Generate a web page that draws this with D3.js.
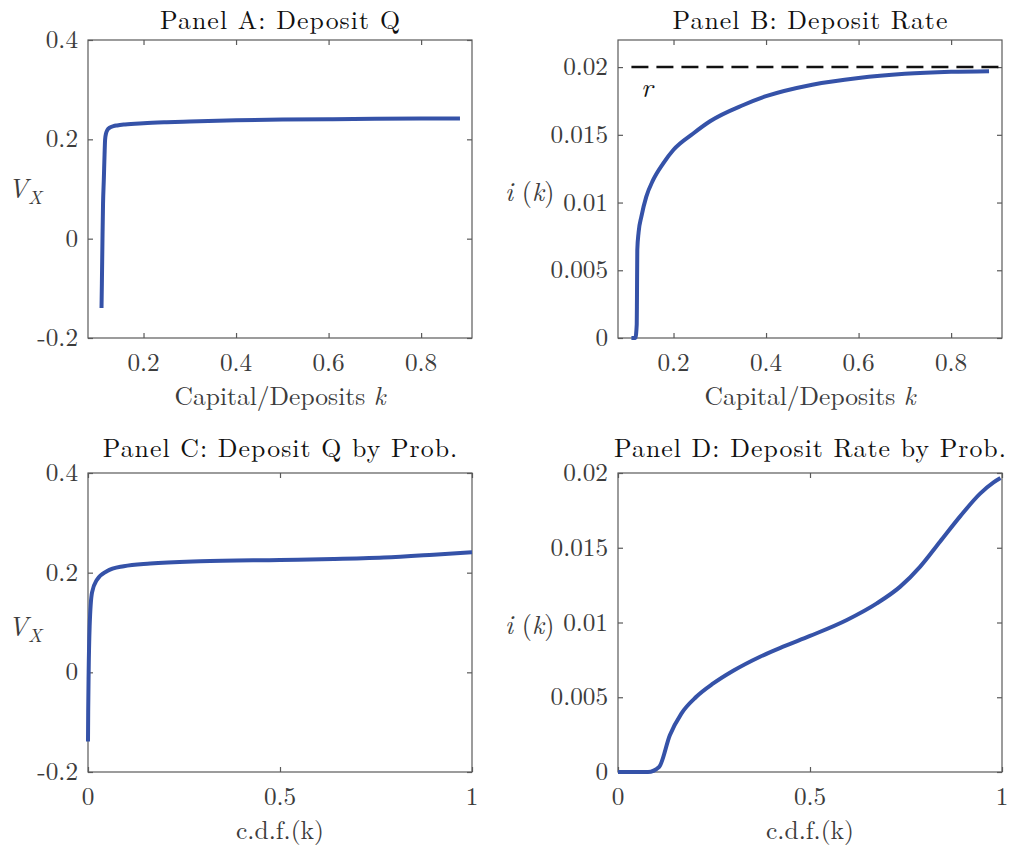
<!DOCTYPE html>
<html><head><meta charset="utf-8">
<script src="https://cdn.jsdelivr.net/npm/d3@7"></script>
<style>
body{margin:0;background:#fff;}
svg{display:block;}
</style></head>
<body>
<svg id="chart" width="1012" height="850"></svg>
<script>
// ---- Data ----
// Panel A: Deposit Q vs capital/deposits
const kA = [0.1092,0.1100,0.1113,0.1125,0.1142,0.1158,0.1170,0.1190,0.1220,0.1270,0.1350,0.1430,0.1600,0.2000,0.2500,0.3000,0.4000,0.5000,0.6000,0.7000,0.8000,0.8840];
const vA = [-0.1395,-0.090,0.000,0.070,0.119,0.170,0.200,0.212,0.219,0.2235,0.2265,0.228,0.230,0.2325,0.2345,0.236,0.2385,0.2398,0.2405,0.2412,0.2417,0.2420];
// Panel B: Deposit rate vs capital/deposits
const kB = [0.1090,0.1175,0.1205,0.1210,0.1217,0.1245,0.1304,0.1410,0.1557,0.1774,0.2000,0.2426,0.2790,0.3510,0.4000,0.5000,0.6000,0.7000,0.8000,0.8820];
const iB = [0,0,0.0010,0.0030,0.0065,0.0078,0.00895,0.01042,0.01165,0.01288,0.0139,0.0151,0.0160,0.0172,0.01785,0.0187,0.0192,0.0195,0.01965,0.0197];
const rRate = 0.02;
const rSpan = [0.109, 0.91];
// Panel C: Deposit Q vs c.d.f.
const cdfC = [0,0.0005,0.0017,0.0043,0.0104,0.0234,0.049,0.093,0.162,0.292,0.5,0.64,0.77,0.9,1.0];
const vC = [-0.1387,-0.08,0.0,0.0925,0.16,0.186,0.203,0.213,0.2185,0.223,0.2255,0.2272,0.2302,0.236,0.241];
// Panel D: Deposit rate vs c.d.f.
const cdfD = [0,0.078,0.107,0.135,0.165,0.204,0.248,0.300,0.370,0.430,0.500,0.596,0.674,0.735,0.787,0.839,0.891,0.943,0.978,0.996];
const iD = [0,0,0.000335,0.00246,0.00391,0.00503,0.00592,0.00677,0.00771,0.00838,0.0091,0.01017,0.01128,0.0124,0.01374,0.01542,0.0171,0.01862,0.01937,0.01966];

// tick labels
const ticksKx = [0.2,0.4,0.6,0.8];
const ticksKxLabels = ["0.2","0.4","0.6","0.8"];
const ticksVy = [-0.2,0,0.2,0.4];
const ticksVyLabels = ["-0.2","0","0.2","0.4"];
const ticksIy = [0,0.005,0.01,0.015,0.02];
const ticksIyLabels = ["0","0.005","0.01","0.015","0.02"];
const ticksCx = [0,0.5,1];
const ticksCxLabels = ["0","0.5","1"];

const titles = ["Panel A: Deposit Q","Panel B: Deposit Rate","Panel C: Deposit Q by Prob.","Panel D: Deposit Rate by Prob."];

// ---- Font selection: first installed serif face ----
function pickSerif(){
  const cands = ["Latin Modern Roman","CMU Serif","Liberation Serif","DejaVu Serif","Noto Serif","Tinos","Times New Roman","Nimbus Roman","FreeSerif","STIX Two Text","Georgia"];
  const c = document.createElement("canvas").getContext("2d");
  const s = "Panel A: Deposit Q 0.015 mmmWWWiiil";
  const bases = ["monospace","sans-serif"];
  const bw = bases.map(b=>{c.font = "40px " + b; return c.measureText(s).width;});
  for (const f of cands){
    let found = false;
    bases.forEach((b,i)=>{ c.font = `40px "${f}", ${b}`; if (Math.abs(c.measureText(s).width - bw[i]) > 0.5) found = true; });
    if (found) return `"${f}", serif`;
  }
  return "serif";
}
const FONT = pickSerif();

// ---- Drawing ----
const svg = d3.select("#chart");
const LINE = "#3552a8";
const AX = "#5a5a5a";
const TXT = "#3c3c3c";

function measure(txt, size){
  const p = svg.append("text").attr("font-family",FONT).attr("font-size",size).text(txt);
  const w = p.node().getComputedTextLength();
  p.remove();
  return w;
}
// calibrate: reference title "Panel A: Deposit Q" is ~240px wide
const probeLen = measure(titles[0], 28) || 218;
const scale = Math.max(0.75, Math.min(1.25, 240 / probeLen));
const TITLE_NAT = 28 * scale;
const TITLE_FS = Math.min(25.8, TITLE_NAT);
const TICK_FS = 25.3 * scale;
const LAB_FS = 25.6 * scale;

function panel(o){
  const g = svg.append("g");
  const x = d3.scaleLinear().domain(o.xdom).range([o.left,o.right]);
  const y = d3.scaleLinear().domain(o.ydom).range([o.bottom,o.top]);
  g.append("rect").attr("x",o.left).attr("y",o.top).attr("width",o.right-o.left).attr("height",o.bottom-o.top)
    .attr("fill","none").attr("stroke",AX).attr("stroke-width",1.2);
  const tl = 5;
  const xAxB = d3.axisBottom(x).tickValues(o.xt).tickSizeInner(-tl).tickSizeOuter(0).tickFormat("");
  const xAxT = d3.axisTop(x).tickValues(o.xt).tickSizeInner(-tl).tickSizeOuter(0).tickFormat("");
  const yAxL = d3.axisLeft(y).tickValues(o.yt).tickSizeInner(-tl).tickSizeOuter(0).tickFormat("");
  const yAxR = d3.axisRight(y).tickValues(o.yt).tickSizeInner(-tl).tickSizeOuter(0).tickFormat("");
  [[xAxB,`translate(0,${o.bottom})`],[xAxT,`translate(0,${o.top})`],[yAxL,`translate(${o.left},0)`],[yAxR,`translate(${o.right},0)`]].forEach(([ax,tr])=>{
    const a = g.append("g").attr("transform",tr).call(ax);
    a.select(".domain").remove();
    a.selectAll("line").attr("stroke",AX).attr("stroke-width",1.2);
  });
  g.selectAll(null).data(o.xt).enter().append("text")
    .attr("x",d=>x(d)).attr("y",o.bottom+33).attr("text-anchor","middle")
    .attr("font-family",FONT).attr("font-size",TICK_FS).attr("fill",TXT)
    .text((d,i)=>o.xtl[i]);
  g.selectAll(null).data(o.yt).enter().append("text")
    .attr("x",o.left-10).attr("y",d=>y(d)+8).attr("text-anchor","end")
    .attr("font-family",FONT).attr("font-size",TICK_FS).attr("fill",TXT)
    .text((d,i)=>o.ytl[i]);
  const tw = measure(o.title, TITLE_NAT);
  g.append("text").attr("x",(o.left+o.right)/2).attr("y",o.titleY).attr("text-anchor","middle")
    .attr("font-family",FONT).attr("font-size",TITLE_FS).attr("fill","#111")
    .attr("textLength",tw).attr("lengthAdjust","spacing").text(o.title);
  g.append("text").attr("x",(o.left+o.right)/2).attr("y",o.bottom+67).attr("text-anchor","middle")
    .attr("font-family",FONT).attr("font-size",LAB_FS).attr("fill",TXT).html(o.xlabel);
  const pts = o.xs.map((v,i)=>[v,o.ys[i]]);
  g.append("path").datum(pts)
    .attr("d",d3.line().x(d=>x(d[0])).y(d=>y(d[1])).curve(o.curve||d3.curveMonotoneX))
    .attr("fill","none").attr("stroke",LINE).attr("stroke-width",4).attr("stroke-linejoin","round");
  return {g,x,y};
}

function vxLabel(g, cx, cy){
  const t = g.append("text").attr("x",cx).attr("y",cy).attr("font-family",FONT).attr("font-size",LAB_FS*1.05)
    .attr("fill",TXT).attr("font-style","italic");
  t.append("tspan").text("V");
  t.append("tspan").attr("font-size",LAB_FS*0.74).attr("dy",6).text("X");
}
function ikLabel(g, x0, cy){
  const t = g.append("text").attr("x",x0).attr("y",cy).attr("font-family",FONT).attr("font-size",LAB_FS*1.03)
    .attr("fill",TXT);
  t.append("tspan").attr("font-style","italic").text("i");
  t.append("tspan").text(" (");
  t.append("tspan").attr("font-style","italic").text("k");
  t.append("tspan").text(")");
}

const kLabel = "Capital/Deposits <tspan font-style='italic'>k</tspan>";
const cdfLabel = "c.d.f.(k)";

// Panel A
const pA = panel({left:88,right:472,top:40,bottom:338,titleY:28.5,xdom:[0.08,0.91],ydom:[-0.2,0.4],
  xt:ticksKx,xtl:ticksKxLabels,yt:ticksVy,ytl:ticksVyLabels,title:titles[0],xlabel:kLabel,xs:kA,ys:vA});
vxLabel(pA.g, 8, 198);

// Panel B
const pB = panel({left:618,right:1002,top:40,bottom:338,titleY:28.5,xdom:[0.08,0.91],ydom:[0,0.022],
  xt:ticksKx,xtl:ticksKxLabels,yt:ticksIy,ytl:ticksIyLabels,title:titles[1],xlabel:kLabel,xs:kB,ys:iB});
pB.g.append("line").attr("x1",pB.x(rSpan[0])).attr("x2",pB.x(rSpan[1])).attr("y1",pB.y(rRate)).attr("y2",pB.y(rRate))
  .attr("stroke","#111").attr("stroke-width",2.5).attr("stroke-dasharray","17,8");
pB.g.append("text").attr("x",641).attr("y",97).attr("font-family",FONT).attr("font-size",LAB_FS*1.08)
  .attr("font-style","italic").attr("fill","#111").text("r");
ikLabel(pB.g, 505, 201);

// Panel C
const pC = panel({left:88,right:472,top:473,bottom:772,titleY:457,xdom:[0,1],ydom:[-0.2,0.4],
  xt:ticksCx,xtl:ticksCxLabels,yt:ticksVy,ytl:ticksVyLabels,title:titles[2],xlabel:cdfLabel,xs:cdfC,ys:vC});
vxLabel(pC.g, 8, 636);

// Panel D
const pD = panel({left:618,right:1002,top:473,bottom:772,titleY:457,xdom:[0,1],ydom:[0,0.02],
  xt:ticksCx,xtl:ticksCxLabels,yt:ticksIy,ytl:ticksIyLabels,title:titles[3],xlabel:cdfLabel,xs:cdfD,ys:iD});
ikLabel(pD.g, 505, 634);
</script>
</body></html>
